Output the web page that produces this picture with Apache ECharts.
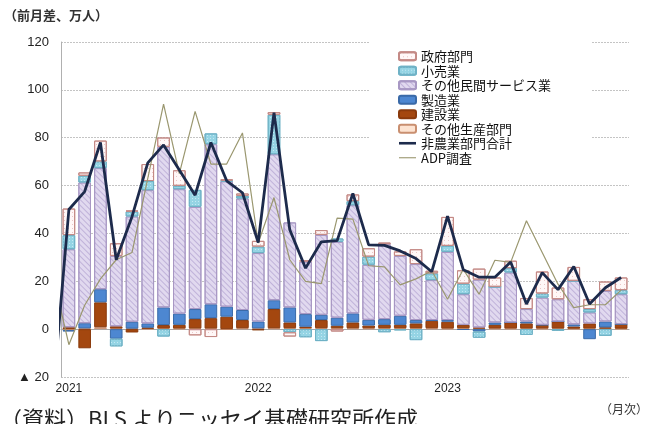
<!DOCTYPE html>
<html>
<head>
<meta charset="utf-8">
<script src="https://cdn.jsdelivr.net/npm/echarts@6/dist/echarts.min.js"></script>
<style>
  html, body { margin: 0; padding: 0; background: #fff; }
  #chart { width: 662px; height: 424px; }
</style>
</head>
<body>
<div id="chart"></div>
<script>
const jpFont = '"Noto Sans CJK JP", sans-serif';
const numFont = '"Liberation Sans", "Noto Sans CJK JP", sans-serif';

// months (2021/1 - 2023/12)
const months = [
  '2021/1','2021/2','2021/3','2021/4','2021/5','2021/6','2021/7','2021/8','2021/9','2021/10','2021/11','2021/12',
  '2022/1','2022/2','2022/3','2022/4','2022/5','2022/6','2022/7','2022/8','2022/9','2022/10','2022/11','2022/12',
  '2023/1','2023/2','2023/3','2023/4','2023/5','2023/6','2023/7','2023/8','2023/9','2023/10','2023/11','2023/12'
];

// 前月差、万人
const otherProd = [-0.4,0.3,0.8,0.3,0.2,0.2,0.3,0.3,0.3,0.3,-0.3,0.4, 0.3,0.4,0.4,0.4,0.4,0.4,0.4,0.4,0.4,0.4,0.4,0.4, 0.3,0.4,0.3,0.3,0.3,0.3,0.3,0.3,0.2,0.3,0.3,0.2];
const construction = [0.8,-8,10.4,0.9,-1.4,0.4,1.4,1.5,3.9,4.3,5.2,3.4, -0.5,8.0,2.4,0.6,3.4,1.0,2.4,1.1,1.4,1.4,2.0,3.1, 2.8,1.4,0.4,1.5,2.5,2.1,1.5,2.9,0.9,2.1,0.4,1.9];
const manufacturing = [-0.6,2.2,5.5,-4,2.9,1.8,7.4,4.7,4.2,5.8,4.2,4.2, 2.9,3.7,6.3,5.3,2.2,3.4,3.8,2.4,2.4,3.8,1.4,0.3, 0.7,-0.3,-1.0,1.0,0,0.8,0,0,0.9,-4.2,2.5,0];
const services = [32.6,58.8,50.6,29.4,44,55.7,67.1,52,42.7,66.9,52.4,46.6, 28.6,61.0,35.5,21.9,33.4,31.7,45.2,23.0,31.3,25.0,23.4,16.7, 28.5,12.8,20.0,14.9,20.9,5.2,11.4,9.3,18.2,4.6,12.8,12.5];
const retail = [5.9,2.8,2.8,-3.2,2.1,3.8,-3.1,1.4,7.1,4.5,0.3,1.1, 2.7,16.5,-1.3,-3.4,-5.0,1.4,1.7,3.4,-1.3,-0.5,-4.6,2.8, 2.5,4.4,-2.6,0,1.8,-2.4,1.7,-0.7,0,1.4,-2.8,1.7];
const government = [11.1,1.4,8.7,5.3,0.3,7.1,3.9,6.5,-2.6,-3.3,0.5,1.0, 2.4,1.1,-1.8,0.6,2.0,-1.0,2.8,3.5,0.7,1.9,6.2,1.1, 12.1,5.6,4.6,3.9,3.1,4.6,9.2,4.9,5.8,4.1,3.9,5.3];

// lines start one month earlier (2020/12), clipped at the plot edge
const nonfarm = [-26.8, 50,57.5,78,29,47,69.5,77,66.5,56,78,62,57, 36.2,90.5,41.5,25.5,36.5,37,56.7,35.2,35,32.7,29.5,24, 47.2,24.8,21.7,21.7,28.1,10.5,23.6,16.5,26.2,10.5,17.3,21.6];
const adp = [22, -6.5,10,21,29,32,63,94,65,91,69,69,82, 36,55,29,20,19,46.4,46,26.5,26,18.5,21,24.4, 12.5,25,14.6,28.8,27.9,45.3,32,18.8,9,10.2,10.2,16.3];

const yTicks = { min: -20, max: 120, step: 20 };

const chart = echarts.init(document.getElementById('chart'));

function bar(name, data, fill, border, decal) {
  return {
    name: name,
    type: 'bar',
    stack: 'total',
    data: data,
    barCategoryGap: '20%',
    itemStyle: { color: fill, borderColor: border, borderWidth: 1, decal: decal },
    emphasis: { disabled: true }
  };
}

const hatch = { symbol: 'rect', symbolSize: 1, dashArrayX: [1, 0], dashArrayY: [1, 3], rotation: Math.PI / 4, color: 'rgba(150,130,190,0.45)' };
const dotsBlue = { symbol: 'rect', symbolSize: 1, dashArrayX: [1, 2], dashArrayY: [1, 2], color: 'rgba(235,250,255,0.55)' };
const dotsPink = { symbol: 'rect', symbolSize: 1, dashArrayX: [1, 3], dashArrayY: [1, 3], color: 'rgba(210,140,140,0.45)' };

const option = {
  animation: false,
  textStyle: { fontFamily: jpFont },
  grid: { left: 61, right: 33, top: 42, bottom: 47 },
  legend: {
    orient: 'vertical',
    left: 370,
    top: 42,
    padding: [7, 40, 15, 28],
    backgroundColor: '#fff',
    itemWidth: 17,
    itemHeight: 8,
    itemGap: 0,
    textStyle: { fontSize: 13, lineHeight: 14.5, color: '#111', fontFamily: jpFont },
    data: [
      '政府部門', '小売業', 'その他民間サービス業', '製造業', '建設業', 'その他生産部門',
      { name: '非農業部門合計', icon: 'path://M0,0H17V2.6H0Z' },
      { name: 'ADP調査', icon: 'path://M0,0H17V1.1H0Z' }
    ]
  },
  xAxis: [
    {
      type: 'category',
      data: months,
      position: 'bottom',
      axisLine: { onZero: true, lineStyle: { color: '#a8a8a8' } },
      axisTick: { interval: 11, length: 4, lineStyle: { color: '#a8a8a8' } },
      axisLabel: { show: false }
    },
    {
      type: 'category',
      data: months,
      position: 'bottom',
      axisLine: { show: false, onZero: false },
      axisTick: { show: false },
      axisLabel: {
        interval: 11,
        margin: 6,
        fontSize: 12,
        color: '#222',
        fontFamily: numFont,
        formatter: v => v.split('/')[0]
      }
    },
    { type: 'value', min: -0.5, max: months.length - 0.5, show: false }
  ],
  yAxis: {
    type: 'value',
    min: yTicks.min,
    max: yTicks.max,
    interval: yTicks.step,
    axisLine: { show: true, onZero: false, lineStyle: { color: '#b0b0b0' } },
    axisTick: { show: false },
    splitLine: { lineStyle: { color: '#c4c4c4', type: [2, 1] } },
    axisLabel: {
      margin: 12,
      fontSize: 13,
      color: '#222',
      fontFamily: numFont,
      formatter: v => (v < 0 ? '▲ ' + (-v) : String(v))
    }
  },
  series: [
    bar('その他生産部門', otherProd, '#fde3d1', '#c98f70'),
    bar('建設業', construction, '#a4470f', '#8a3a0c'),
    bar('製造業', manufacturing, '#4d87d1', '#3a6aa8'),
    bar('その他民間サービス業', services, '#e1d9ef', '#a898c4', hatch),
    bar('小売業', retail, '#95d4e4', '#6fb2c6', dotsBlue),
    bar('政府部門', government, '#fff7f7', '#c48a86', dotsPink),
    {
      name: '非農業部門合計',
      type: 'line',
      xAxisIndex: 2,
      data: nonfarm.map((v, i) => [i - 1, v]),
      symbol: 'none',
      lineStyle: { color: '#1d2b4c', width: 2.8 },
      itemStyle: { color: '#1d2b4c' },
      z: 5
    },
    {
      name: 'ADP調査',
      type: 'line',
      xAxisIndex: 2,
      data: adp.map((v, i) => [i - 1, v]),
      symbol: 'none',
      lineStyle: { color: '#9a976f', width: 1.2 },
      itemStyle: { color: '#9a976f' },
      z: 4
    }
  ],
  graphic: [
    { type: 'text', left: 4, top: 9, style: { text: '（前月差、万人）', fontSize: 13, fontWeight: 'bold', fill: '#333', fontFamily: jpFont } },
    { type: 'text', right: 14, top: 403, style: { text: '（月次）', fontSize: 12, fill: '#333', fontFamily: jpFont } },
    { type: 'text', left: 0, top: 408, style: { text: '（資料）BLS よりニッセイ基礎研究所作成', fontSize: 22, fill: '#222', fontFamily: jpFont } }
  ]
};

chart.setOption(option);
</script>
</body>
</html>
